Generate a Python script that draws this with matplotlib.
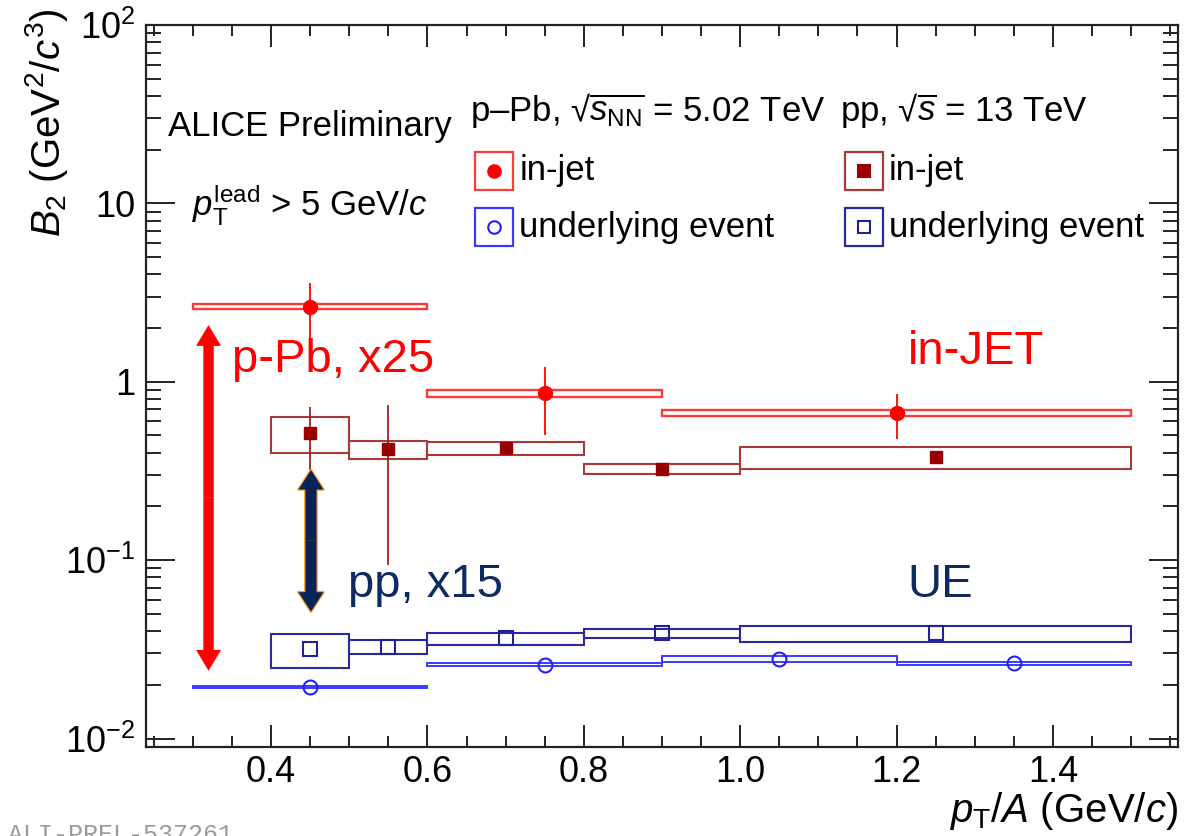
import matplotlib
matplotlib.use("Agg")
import matplotlib.pyplot as plt
import matplotlib.ticker as mticker
from matplotlib.patches import FancyArrowPatch, Rectangle

plt.rcParams['font.family'] = ['Liberation Sans', 'DejaVu Sans']
plt.rcParams['mathtext.fontset'] = 'custom'
plt.rcParams['mathtext.rm'] = 'Liberation Sans'
plt.rcParams['mathtext.it'] = 'Liberation Sans:italic'
plt.rcParams['mathtext.bf'] = 'Liberation Sans:bold'

# p-Pb 5.02 TeV, in-jet
ppb_jet_x = [0.45, 0.75, 1.2]
ppb_jet_xlo = [0.3, 0.6, 0.9]
ppb_jet_xhi = [0.6, 0.9, 1.5]
ppb_jet_y = [2.63, 0.86, 0.665]
ppb_jet_stat_lo = [1.55, 0.50, 0.48]
ppb_jet_stat_hi = [3.57, 1.21, 0.85]
ppb_jet_sys_lo = [2.545, 0.825, 0.643]
ppb_jet_sys_hi = [2.724, 0.898, 0.694]

# p-Pb 5.02 TeV, underlying event
ppb_ue_x = [0.45, 0.75, 1.05, 1.35]
ppb_ue_xlo = [0.3, 0.6, 0.9, 1.2]
ppb_ue_xhi = [0.6, 0.9, 1.2, 1.5]
ppb_ue_y = [0.0194, 0.0259, 0.0280, 0.0264]
ppb_ue_sys_lo = [0.0191, 0.0255, 0.0268, 0.0257]
ppb_ue_sys_hi = [0.0197, 0.0266, 0.0291, 0.0270]

# pp 13 TeV, in-jet
pp_jet_x = [0.45, 0.55, 0.7, 0.9, 1.25]
pp_jet_xlo = [0.4, 0.5, 0.6, 0.8, 1.0]
pp_jet_xhi = [0.5, 0.6, 0.8, 1.0, 1.5]
pp_jet_y = [0.518, 0.418, 0.424, 0.324, 0.377]
pp_jet_stat_lo = [0.320, 0.094, 0.415, 0.318, 0.370]
pp_jet_stat_hi = [0.721, 0.740, 0.433, 0.330, 0.384]
pp_jet_sys_lo = [0.397, 0.367, 0.388, 0.303, 0.323]
pp_jet_sys_hi = [0.637, 0.467, 0.461, 0.346, 0.432]

# pp 13 TeV, underlying event
pp_ue_x = [0.45, 0.55, 0.7, 0.9, 1.25]
pp_ue_xlo = [0.4, 0.5, 0.6, 0.8, 1.0]
pp_ue_xhi = [0.5, 0.6, 0.8, 1.0, 1.5]
pp_ue_y = [0.0317, 0.0327, 0.0365, 0.0389, 0.0389]
pp_ue_sys_lo = [0.0250, 0.0298, 0.0335, 0.0365, 0.0349]
pp_ue_sys_hi = [0.0385, 0.0357, 0.0389, 0.0410, 0.0428]

# scaling arrows (x, y_top, y_bottom)
ARROW_PPB = (0.32, 2.08, 0.0240)
ARROW_PP = (0.451, 0.320, 0.0515)

RED = '#ff0000'
RED_BOX = '#ff3a3a'
DRED = '#990000'
DRED_BOX = '#a83a3a'
BLUE = '#2020ff'
BLUE_BOX = '#3a3aff'
NAVY = '#202098'
NAVY_BOX = '#2a2aa0'
ANNOT_NAVY = '#0d2a62'


def sys_boxes(ax, xlo, xhi, lo, hi, color, lw):
    w = [b - a for a, b in zip(xlo, xhi)]
    h = [b - a for a, b in zip(lo, hi)]
    ax.bar(xlo, h, width=w, bottom=lo, align='edge', fill=False,
           edgecolor=color, linewidth=lw, zorder=3)


def stat_bars(ax, x, y, lo, hi, color):
    err = [[v - l for v, l in zip(y, lo)], [h - v for v, h in zip(y, hi)]]
    ax.errorbar(x, y, yerr=err, fmt='none', ecolor=color, elinewidth=1.3,
                capsize=0, zorder=4)


def double_arrow(ax, x, ytop, ybot, face, edge=None, tail=7.5, hw=18, hl=15):
    ymid = (ytop * ybot) ** 0.5
    style = f'simple,head_width={hw},head_length={hl},tail_width={tail}'
    for yend in (ytop, ybot):
        if edge is not None:
            ax.add_patch(FancyArrowPatch((x, ymid), (x, yend), arrowstyle=style,
                                         mutation_scale=1, facecolor=edge,
                                         edgecolor=edge, linewidth=1.8,
                                         shrinkA=0, shrinkB=0, zorder=5))
        ax.add_patch(FancyArrowPatch((x, ymid), (x, yend), arrowstyle=style,
                                     mutation_scale=1, facecolor=face,
                                     edgecolor='none', linewidth=0,
                                     shrinkA=0, shrinkB=0, zorder=6))


fig = plt.figure(figsize=(11.9, 8.36), dpi=100)
ax = fig.add_axes([146 / 1190, 1 - 747 / 836, 1032 / 1190, 722 / 836])

ax.set_yscale('log')
ax.set_xlim(0.24, 1.56)
ax.set_ylim(0.00897, 100)

# systematic boxes
sys_boxes(ax, ppb_jet_xlo, ppb_jet_xhi, ppb_jet_sys_lo, ppb_jet_sys_hi, RED_BOX, 1.7)
sys_boxes(ax, ppb_ue_xlo, ppb_ue_xhi, ppb_ue_sys_lo, ppb_ue_sys_hi, BLUE_BOX, 1.4)
sys_boxes(ax, pp_jet_xlo, pp_jet_xhi, pp_jet_sys_lo, pp_jet_sys_hi, DRED_BOX, 1.5)
sys_boxes(ax, pp_ue_xlo, pp_ue_xhi, pp_ue_sys_lo, pp_ue_sys_hi, NAVY_BOX, 1.5)

# statistical errors
stat_bars(ax, ppb_jet_x, ppb_jet_y, ppb_jet_stat_lo, ppb_jet_stat_hi, RED)
stat_bars(ax, pp_jet_x, pp_jet_y, pp_jet_stat_lo, pp_jet_stat_hi, '#a02020')

# markers
ax.plot(ppb_jet_x, ppb_jet_y, 'o', color=RED, ms=10, zorder=5)
ax.plot(pp_jet_x, pp_jet_y, 's', color=DRED, ms=9, zorder=5)
ax.plot(ppb_ue_x, ppb_ue_y, 'o', mfc='none', mec=BLUE, mew=1.5, ms=10, zorder=5)
ax.plot(pp_ue_x, pp_ue_y, 's', mfc='none', mec=NAVY, mew=1.5, ms=9.5, zorder=5)

# scaling arrows
double_arrow(ax, *ARROW_PPB, face=RED, tail=7.5, hw=18, hl=15)
double_arrow(ax, *ARROW_PP, face='#0b2358', edge='#f5a020', tail=8, hw=18, hl=14)

# annotations
ax.text(0.0833, 0.536, 'p-Pb, x25', transform=ax.transAxes, color=RED,
        fontsize=34, va='center', ha='left')
ax.text(0.196, 0.224, 'pp, x15', transform=ax.transAxes, color=ANNOT_NAVY,
        fontsize=34, va='center', ha='left')
ax.text(0.738, 0.547, 'in-JET', transform=ax.transAxes, color=RED,
        fontsize=34, va='center', ha='left')
ax.text(0.738, 0.224, 'UE', transform=ax.transAxes, color=ANNOT_NAVY,
        fontsize=34, va='center', ha='left')

# legend block
ax.text(0.0213, 0.860, 'ALICE Preliminary', transform=ax.transAxes,
        fontsize=25, va='center', ha='left')
ax.text(0.0446, 0.751, r'$p_{\rm T}^{\rm lead}$ > 5 GeV/$c$', transform=ax.transAxes,
        fontsize=25, va='center', ha='left')
ax.text(0.314, 0.882, r'p–Pb, √$\overline{s_{\rm NN}}$ = 5.02 TeV', transform=ax.transAxes,
        fontsize=25, va='center', ha='left')
ax.text(0.672, 0.882, r'pp, √$\overline{s}$ = 13 TeV', transform=ax.transAxes,
        fontsize=25, va='center', ha='left')

legend_rows = [
    (0.319, 0.798, RED_BOX, 'o', RED, RED, 'in-jet'),
    (0.319, 0.720, BLUE_BOX, 'o', 'none', BLUE, 'underlying event'),
    (0.677, 0.798, DRED_BOX, 's', DRED, DRED, 'in-jet'),
    (0.677, 0.720, NAVY_BOX, 's', 'none', NAVY, 'underlying event'),
]
bw, bh = 0.0368, 0.0526
for lx, ly, ec, mk, mfc, mec, lab in legend_rows:
    ax.add_patch(Rectangle((lx, ly - bh / 2), bw, bh, transform=ax.transAxes,
                           fill=False, edgecolor=ec, linewidth=1.6, zorder=5))
    ax.plot([lx + bw / 2], [ly], mk, transform=ax.transAxes, mfc=mfc, mec=mec,
            mew=1.5, ms=9 if mk == 'o' else 8, zorder=6)
    ax.text(lx + bw + 0.006, ly, lab, transform=ax.transAxes, fontsize=25,
            va='center', ha='left')

# axes styling (ROOT-like)
ax.xaxis.set_major_locator(mticker.MultipleLocator(0.2))
ax.xaxis.set_minor_locator(mticker.MultipleLocator(0.05))
ax.xaxis.set_major_formatter(mticker.FormatStrFormatter('%.1f'))
ax.yaxis.set_major_locator(mticker.LogLocator(base=10, numticks=10))
ax.yaxis.set_minor_locator(mticker.LogLocator(base=10, subs=range(2, 10), numticks=20))
ax.yaxis.set_minor_formatter(mticker.NullFormatter())
ylabels = {0.01: r'$10^{-2}$', 0.1: r'$10^{-1}$', 1: '1', 10: '10', 100: r'$10^{2}$'}


def ylab(v, pos):
    for k, s in ylabels.items():
        if abs(v / k - 1) < 1e-6:
            return s
    return ''


ax.yaxis.set_major_formatter(mticker.FuncFormatter(ylab))

ax.tick_params(axis='both', which='both', direction='in', top=True, right=True,
               colors='#222222', labelcolor='black')
ax.tick_params(axis='x', which='major', length=15.5, width=1.4, labelsize=26, pad=6)
ax.tick_params(axis='x', which='minor', length=8, width=1.4)
ax.tick_params(axis='y', which='major', length=21, width=1.4, labelsize=26, pad=8)
ax.tick_params(axis='y', which='minor', length=10.5, width=1.4)
for sp in ax.spines.values():
    sp.set_linewidth(1.6)
    sp.set_color('#222222')

fig.text(47 / 1190, 1 - 8 / 836, r'$B_2$ (GeV$^2$/$c^3$)', rotation=90,
         fontsize=29, ha='center', va='top')
fig.text(1178 / 1190, 1 - 822 / 836, r'$p_{\rm T}$/$A$ (GeV/$c$)',
         fontsize=29, ha='right', va='baseline')
fig.text(8 / 1190, 1 - 842 / 836, 'ALI-PREL-537261', family='Liberation Mono',
         fontsize=18, color='#9a9a9a', ha='left', va='baseline')

fig.savefig('out.png', dpi=100)
